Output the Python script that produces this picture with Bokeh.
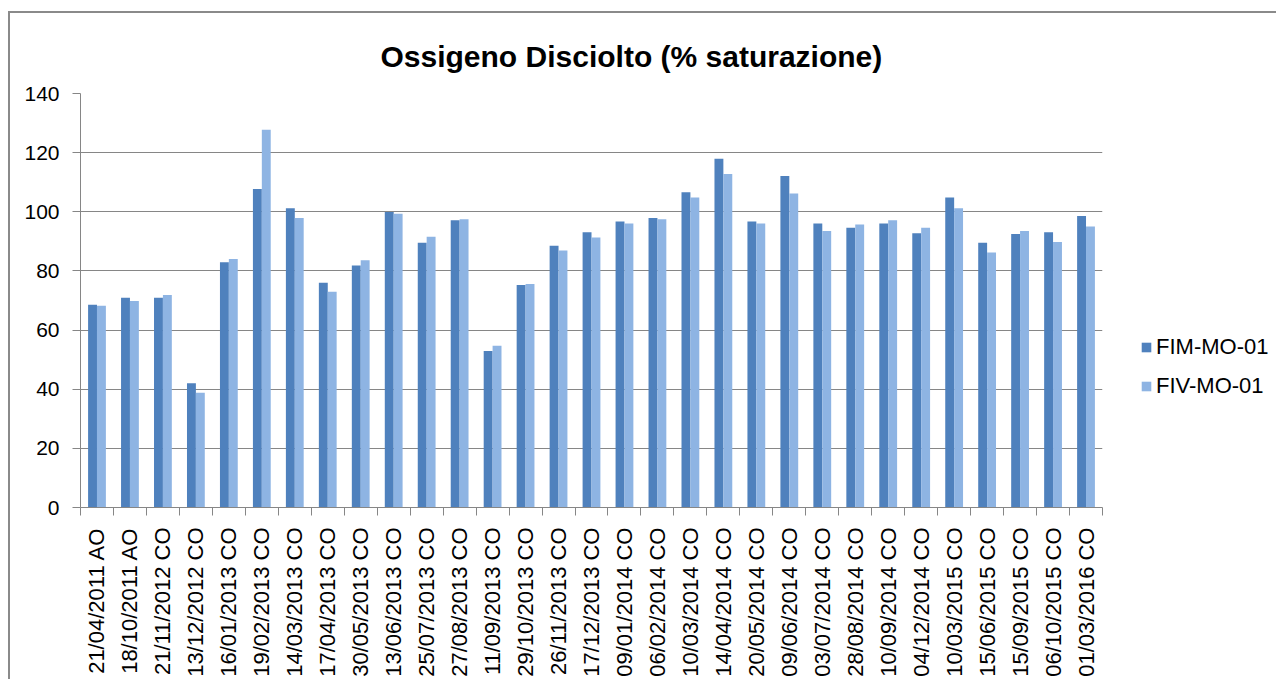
from math import pi
from bokeh.plotting import figure
from bokeh.layouts import row
from bokeh.models import (ColumnDataSource, FactorRange, Range1d, LinearAxis, CategoricalAxis,
                          FixedTicker, Legend, LegendItem, Title, Grid)
from bokeh.transform import dodge
from bokeh.embed import file_html
from bokeh.resources import INLINE

categories = [
    "21/04/2011 AO", "18/10/2011 AO", "21/11/2012 CO", "13/12/2012 CO", "16/01/2013 CO",
    "19/02/2013 CO", "14/03/2013 CO", "17/04/2013 CO", "30/05/2013 CO", "13/06/2013 CO",
    "25/07/2013 CO", "27/08/2013 CO", "11/09/2013 CO", "29/10/2013 CO", "26/11/2013 CO",
    "17/12/2013 CO", "09/01/2014 CO", "06/02/2014 CO", "10/03/2014 CO", "14/04/2014 CO",
    "20/05/2014 CO", "09/06/2014 CO", "03/07/2014 CO", "28/08/2014 CO", "10/09/2014 CO",
    "04/12/2014 CO", "10/03/2015 CO", "15/06/2015 CO", "15/09/2015 CO", "06/10/2015 CO",
    "01/03/2016 CO",
]
fim_mo_01 = [68.6, 70.9, 70.9, 42.0, 82.9, 107.7, 101.2, 76.0, 81.8, 99.9,
             89.5, 97.1, 52.9, 75.2, 88.5, 93.1, 96.7, 97.9, 106.6, 117.9,
             96.7, 112.1, 96.0, 94.6, 96.0, 92.7, 104.8, 89.5, 92.5, 93.1, 98.6]
fiv_mo_01 = [68.2, 69.8, 71.9, 38.8, 84.0, 127.7, 97.9, 73.0, 83.6, 99.3,
             91.6, 97.5, 54.7, 75.6, 86.9, 91.3, 96.0, 97.5, 104.8, 112.8,
             96.0, 106.2, 93.5, 95.7, 97.1, 94.6, 101.2, 86.2, 93.5, 89.8, 95.0]
y_ticks = [0, 20, 40, 60, 80, 100, 120, 140]
series_names = ["FIM-MO-01", "FIV-MO-01"]

FONT = "Liberation Sans"
GRID = "#868686"
DARK = "#4F81BD"
LIGHT = "#8EB4E3"
H = 666

src = ColumnDataSource(dict(cat=categories, fim=fim_mo_01, fiv=fiv_mo_01))

p = figure(width=1094, height=H,
           x_range=FactorRange(*categories), y_range=Range1d(0, 140),
           output_backend="svg", toolbar_location=None, x_axis_location=None,
           min_border_left=70, min_border_right=2, min_border_top=80, min_border_bottom=172)
p.outline_line_color = None
p.background_fill_color = "white"
p.border_fill_color = "white"
p.center = [c for c in p.center if not (isinstance(c, Grid) and c.dimension == 0)]

p.add_layout(Title(text="Ossigeno Disciolto (% saturazione)", align="left", offset=300,
                   text_font=FONT, text_font_size="30px", text_font_style="bold",
                   text_color="black", standoff=42), "above")

# y axis
p.yaxis.ticker = FixedTicker(ticks=y_ticks)
p.yaxis.major_label_text_font = FONT
p.yaxis.major_label_text_font_size = "21px"
p.yaxis.major_label_text_color = "black"
p.yaxis.axis_line_color = GRID
p.yaxis.major_tick_line_color = GRID
p.yaxis.major_tick_out = 8
p.yaxis.major_tick_in = 0
p.yaxis.minor_tick_line_color = None
p.yaxis.major_label_standoff = 13
p.ygrid.grid_line_color = GRID
p.ygrid.ticker = FixedTicker(ticks=y_ticks)

# tick marks on the category boundaries, as in the original
tick_axis = LinearAxis(ticker=FixedTicker(ticks=list(range(len(categories) + 1))),
                       major_label_text_font_size="0px", major_label_standoff=0,
                       axis_line_color=GRID, major_tick_line_color=GRID,
                       major_tick_out=8, major_tick_in=0, minor_tick_line_color=None)
p.add_layout(tick_axis, "below")

label_axis = CategoricalAxis(major_label_orientation=pi / 2,
                             major_label_text_font=FONT, major_label_text_font_size="22px",
                             major_label_text_color="black", major_label_standoff=6,
                             axis_line_color=None, major_tick_line_color=None,
                             minor_tick_line_color=None)
p.add_layout(label_axis, "below")

p.vbar(x=dodge("cat", -0.135, range=p.x_range), top="fim", width=0.27,
       source=src, fill_color=DARK, line_color=None)
p.vbar(x=dodge("cat", 0.135, range=p.x_range), top="fiv", width=0.27,
       source=src, fill_color=LIGHT, line_color=None)

# legend panel to the right of the plot area (swatch renderers lie outside its range)
pl = figure(width=172, height=H, x_range=Range1d(0, 1), y_range=Range1d(0, 1),
            output_backend="svg", toolbar_location=None,
            x_axis_location=None, y_axis_location=None, min_border=0)
pl.outline_line_color = None
pl.center = []
swatch = ColumnDataSource(dict(x=[5], top=[5]))
k1 = pl.vbar(x="x", top="top", width=0.5, source=swatch, fill_color=DARK, line_color=None)
k2 = pl.vbar(x="x", top="top", width=0.5, source=swatch, fill_color=LIGHT, line_color=None)
legend = Legend(items=[LegendItem(label=series_names[0], renderers=[k1]),
                       LegendItem(label=series_names[1], renderers=[k2])],
                location=(36, 108), orientation="vertical",
                glyph_width=12, glyph_height=12, label_height=22, spacing=13,
                label_text_font=FONT, label_text_font_size="22px", label_text_color="black",
                label_standoff=4, border_line_color=None, background_fill_alpha=0,
                padding=0, margin=0)
pl.add_layout(legend)

layout = row(p, pl)
layout.styles = {"border-left": "2px solid #8a8a8a", "border-top": "2px solid #8a8a8a",
                 "margin-top": "11px", "margin-left": "8px"}

open("out.html", "w").write(file_html(layout, INLINE))
